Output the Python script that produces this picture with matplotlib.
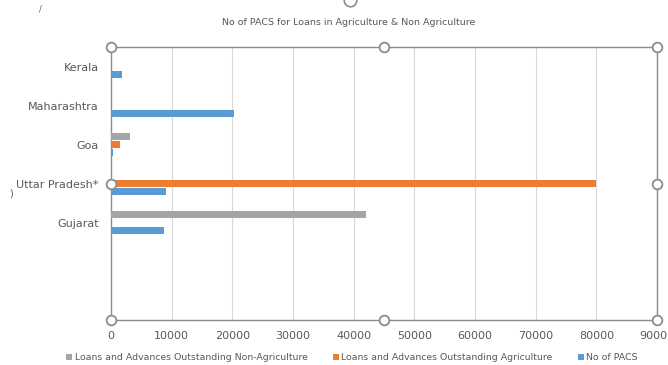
import matplotlib.pyplot as plt
import numpy as np

# Data, top to bottom in the picture
states = ['Kerala', 'Maharashtra', 'Goa', 'Uttar Pradesh*', 'Gujarat', '', '']
non_agri = [0, 0, 3150, 0, 42000, 0, 0]
agri = [0, 0, 1500, 80000, 0, 0, 0]
no_pacs = [1750, 20200, 250, 9000, 8800, 0, 0]

series_names = ['Loans and Advances Outstanding Non-Agriculture',
                'Loans and Advances Outstanding Agriculture',
                'No of PACS']
colors = ['#A5A5A5', '#ED7D31', '#5B9BD5']

fig = plt.figure(figsize=(6.68, 3.65), dpi=100)
ax = fig.add_axes([0.1662, 0.1233, 0.8173, 0.7479])

y = np.arange(len(states))[::-1]
h = 0.18
off = 0.215
ax.barh(y + off, non_agri, height=h, color=colors[0], label=series_names[0], zorder=3)
ax.barh(y, agri, height=h, color=colors[1], label=series_names[1], zorder=3)
ax.barh(y - off, no_pacs, height=h, color=colors[2], label=series_names[2], zorder=3)

ax.set_xlim(0, 90000)
ax.set_ylim(-0.5, len(states) - 0.5)
ax.set_xticks(np.arange(0, 90001, 10000))
ax.set_yticks(y)
ax.set_yticklabels(states)
ax.tick_params(axis='both', length=0, colors='#595959', labelsize=8)
ax.tick_params(axis='x', pad=8)
ax.tick_params(axis='y', pad=9)
ax.grid(axis='x', color='#D9D9D9', linewidth=0.8, zorder=0)
for s in ax.spines.values():
    s.set_color('#8C8C8C')
    s.set_linewidth(1.0)

# selection handles around the plot area
hx = [0, 0.5, 1, 0, 1, 0, 0.5, 1]
hy = [1, 1, 1, 0.5, 0.5, 0, 0, 0]
ax.plot(hx, hy, 'o', transform=ax.transAxes, markersize=7, markerfacecolor='white',
        markeredgecolor='#8C8C8C', markeredgewidth=1.3, clip_on=False, zorder=5)
# title selection handle, mostly off the top edge
ax.plot([0.524], [1.0], 'o', transform=fig.transFigure, markersize=9,
        markerfacecolor='white', markeredgecolor='#8C8C8C', markeredgewidth=1.2,
        clip_on=False, zorder=5)

fig.text(0.522, 0.937, 'No of PACS for Loans in Agriculture & Non Agriculture',
         ha='center', va='center', fontsize=6.8, color='#595959')
fig.text(0.06, 0.975, '/', fontsize=6, color='#595959', ha='center', va='center')
fig.text(0.016, 0.47, ')', fontsize=7, color='#595959', ha='center', va='center')

fig.legend(loc='center', bbox_to_anchor=(0.527, 0.02), ncol=3, frameon=False,
           fontsize=6.75, labelcolor='#595959', handlelength=0.6, handleheight=0.6,
           handletextpad=0.3, columnspacing=2.7)

fig.savefig('out.png', dpi=100)
